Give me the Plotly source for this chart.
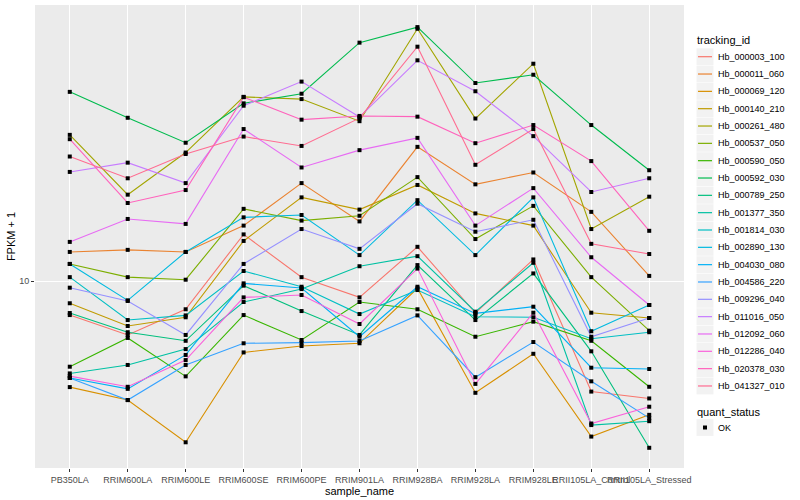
import plotly.graph_objects as go

# ---------------- data (FPKM + 1) ----------------
samples = ["PB350LA", "RRIM600LA", "RRIM600LE", "RRIM600SE", "RRIM600PE",
           "RRIM901LA", "RRIM928BA", "RRIM928LA", "RRIM928LE",
           "RRII105LA_Control", "RRII105LA_Stressed"]

tracking_ids = ["Hb_000003_100", "Hb_000011_060", "Hb_000069_120", "Hb_000140_210",
                "Hb_000261_480", "Hb_000537_050", "Hb_000590_050", "Hb_000592_030",
                "Hb_000789_250", "Hb_001377_350", "Hb_001814_030", "Hb_002890_130",
                "Hb_004030_080", "Hb_004586_220", "Hb_009296_040", "Hb_011016_050",
                "Hb_012092_060", "Hb_012286_040", "Hb_020378_030", "Hb_041327_010"]

colors = ["#F8766D", "#EA8331", "#D89000", "#C09B00", "#A3A500", "#7CAE00", "#39B600",
          "#00BB4E", "#00BF7D", "#00C1A3", "#00BFC4", "#00BAE0", "#00B0F6", "#35A2FF",
          "#9590FF", "#C77CFF", "#E76BF3", "#FA62DB", "#FF62BC", "#FF6C91"]

Hb_000003_100 = [7.70, 6.61, 8.05, 14.3, 10.3, 8.82, 13.0, 7.82, 11.8, 4.28, 4.06]
Hb_000011_060 = [12.5, 12.7, 12.5, 15.3, 21.2, 15.8, 28.0, 21.0, 23.0, 17.0, 10.4]
Hb_000069_120 = [4.43, 4.01, 2.90, 5.78, 6.07, 6.20, 9.46, 4.24, 5.72, 3.03, 3.58]
Hb_000140_210 = [8.43, 7.08, 7.57, 13.6, 19.0, 17.3, 20.9, 16.8, 15.3, 7.84, 7.53]
Hb_000261_480 = [30.7, 19.4, 26.8, 41.1, 40.4, 34.1, 69.3, 34.8, 53.0, 14.9, 19.1]
Hb_000537_050 = [11.4, 10.3, 10.1, 17.4, 15.9, 16.5, 22.2, 13.8, 17.8, 10.3, 6.83]
Hb_000590_050 = [5.18, 6.46, 4.81, 7.70, 6.36, 8.51, 8.05, 6.52, 7.32, 6.32, 4.44]
Hb_000592_030 = [42.7, 35.0, 28.9, 39.1, 42.1, 62.3, 70.2, 45.7, 48.7, 33.1, 23.4]
Hb_000789_250 = [7.82, 6.75, 6.32, 9.65, 7.94, 6.61, 11.3, 7.41, 10.6, 5.83, 2.78]
Hb_001377_350 = [4.92, 5.25, 5.93, 8.51, 9.40, 11.2, 12.1, 7.90, 11.5, 3.31, 3.41]
Hb_001814_030 = [10.3, 7.41, 7.68, 10.8, 9.57, 7.76, 9.33, 7.60, 7.57, 6.42, 6.75]
Hb_002890_130 = [11.4, 8.62, 12.5, 16.3, 16.6, 12.2, 18.6, 12.2, 19.0, 6.80, 8.32]
Hb_004030_080 = [4.75, 4.37, 5.67, 9.82, 9.48, 6.52, 9.57, 7.80, 8.21, 5.14, 5.09]
Hb_004586_220 = [4.75, 4.01, 5.25, 6.20, 6.23, 6.31, 7.68, 4.78, 6.26, 4.63, 3.49]
Hb_009296_040 = [9.50, 8.58, 6.61, 11.4, 14.9, 12.8, 18.1, 14.6, 16.0, 6.52, 7.53]
Hb_011016_050 = [23.1, 24.8, 21.2, 38.4, 46.2, 35.2, 54.4, 42.9, 30.4, 19.8, 22.0]
Hb_012092_060 = [13.5, 16.1, 15.5, 32.1, 23.9, 27.3, 30.0, 15.3, 20.4, 12.0, 8.32]
Hb_012286_040 = [4.82, 4.44, 5.45, 8.82, 8.98, 7.19, 11.0, 4.54, 7.84, 3.35, 3.81]
Hb_020378_030 = [29.7, 18.2, 20.1, 41.0, 34.5, 35.5, 35.3, 28.8, 33.1, 25.1, 14.7]
Hb_041327_010 = [26.0, 22.0, 26.5, 30.3, 28.2, 34.9, 60.4, 24.4, 32.1, 13.3, 12.3]

series = [Hb_000003_100, Hb_000011_060, Hb_000069_120, Hb_000140_210, Hb_000261_480,
          Hb_000537_050, Hb_000590_050, Hb_000592_030, Hb_000789_250, Hb_001377_350,
          Hb_001814_030, Hb_002890_130, Hb_004030_080, Hb_004586_220, Hb_009296_040,
          Hb_011016_050, Hb_012092_060, Hb_012286_040, Hb_020378_030, Hb_041327_010]

quant_status = ["OK"]

FONT = "Liberation Sans, Arial, Helvetica, sans-serif"

fig = go.Figure()

# lines first (ggplot geom_line layer)
for name, col, vals in zip(tracking_ids, colors, series):
    fig.add_trace(go.Scatter(x=samples, y=vals, mode="lines", name=name,
                             line=dict(color=col, width=1.1), showlegend=False,
                             hoverinfo="skip"))
# then points (geom_point layer)
for name, vals in zip(tracking_ids, series):
    fig.add_trace(go.Scatter(x=samples, y=vals, mode="markers", name=name,
                             marker=dict(color="black", size=4, symbol="square"),
                             showlegend=False))

# ---------------- manual ggplot-like legend ----------------
L, T, R, B = 35, 5, 684, 468
W, H = R - L, B - T


def px(xp):
    return (xp - L) / W


def py(yp):
    return (B - yp) / H


shapes = []
annotations = []
key_x0, key_x1 = 696.5, 713.5
first_y, step = 56.7, 17.33

annotations.append(dict(x=px(695), y=py(40.5), xref="paper", yref="paper",
                        text="tracking_id", showarrow=False, xanchor="left",
                        yanchor="middle", font=dict(size=11, color="black", family=FONT)))
for i, (name, col) in enumerate(zip(tracking_ids, colors)):
    yc = first_y + i * step
    shapes.append(dict(type="rect", xref="paper", yref="paper",
                       x0=px(key_x0), x1=px(key_x1), y0=py(yc - 8.4), y1=py(yc + 8.4),
                       fillcolor="#F2F2F2", line=dict(width=0), layer="above"))
    shapes.append(dict(type="line", xref="paper", yref="paper",
                       x0=px(key_x0 + 1.5), x1=px(key_x1 - 1.5), y0=py(yc), y1=py(yc),
                       line=dict(color=col, width=1.2), layer="above"))
    annotations.append(dict(x=px(715.5), y=py(yc), xref="paper", yref="paper",
                            text=name, showarrow=False, xanchor="left", yanchor="middle",
                            font=dict(size=9, color="black", family=FONT)))

annotations.append(dict(x=px(695), y=py(412.3), xref="paper", yref="paper",
                        text="quant_status", showarrow=False, xanchor="left",
                        yanchor="middle", font=dict(size=11, color="black", family=FONT)))
for j, st in enumerate(quant_status):
    yc = 427.5 + j * step
    shapes.append(dict(type="rect", xref="paper", yref="paper",
                       x0=px(key_x0), x1=px(key_x1), y0=py(yc - 8.4), y1=py(yc + 8.4),
                       fillcolor="#F2F2F2", line=dict(width=0), layer="above"))
    shapes.append(dict(type="rect", xref="paper", yref="paper",
                       x0=px(703), x1=px(707), y0=py(yc - 2), y1=py(yc + 2),
                       fillcolor="black", line=dict(width=0), layer="above"))
    annotations.append(dict(x=px(715.5), y=py(yc), xref="paper", yref="paper",
                            text=st, showarrow=False, xanchor="left", yanchor="middle",
                            font=dict(size=9, color="black", family=FONT)))

fig.update_layout(
    width=800, height=500,
    margin=dict(l=L, r=800 - R, t=T, b=500 - B),
    paper_bgcolor="white", plot_bgcolor="#EBEBEB",
    font=dict(family=FONT, color="black"),
    showlegend=False,
    shapes=shapes, annotations=annotations,
    xaxis=dict(type="category", categoryorder="array", categoryarray=samples,
               range=[-0.6, len(samples) - 0.4], showgrid=True, gridcolor="white",
               gridwidth=1.1, zeroline=False, showline=False, ticks="outside",
               ticklen=3, tickwidth=1, tickcolor="#333333", tickangle=0,
               tickfont=dict(size=9, color="#4D4D4D", family=FONT),
               title=dict(text="sample_name", font=dict(size=11, color="black"),
                          standoff=0)),
    yaxis=dict(type="log", range=[0.3767, 1.92], tickvals=[10], ticktext=["10"],
               showgrid=True, gridcolor="white", gridwidth=1.1, zeroline=False,
               showline=False, ticks="outside", ticklen=3, tickwidth=1,
               tickcolor="#333333",
               tickfont=dict(size=9, color="#4D4D4D", family=FONT),
               title=dict(text="FPKM + 1", font=dict(size=11, color="black"),
                          standoff=1)),
)

fig.write_html("out.html", config={"displayModeBar": False},
               post_script="document.body.style.margin='0';document.body.style.padding='0';")
